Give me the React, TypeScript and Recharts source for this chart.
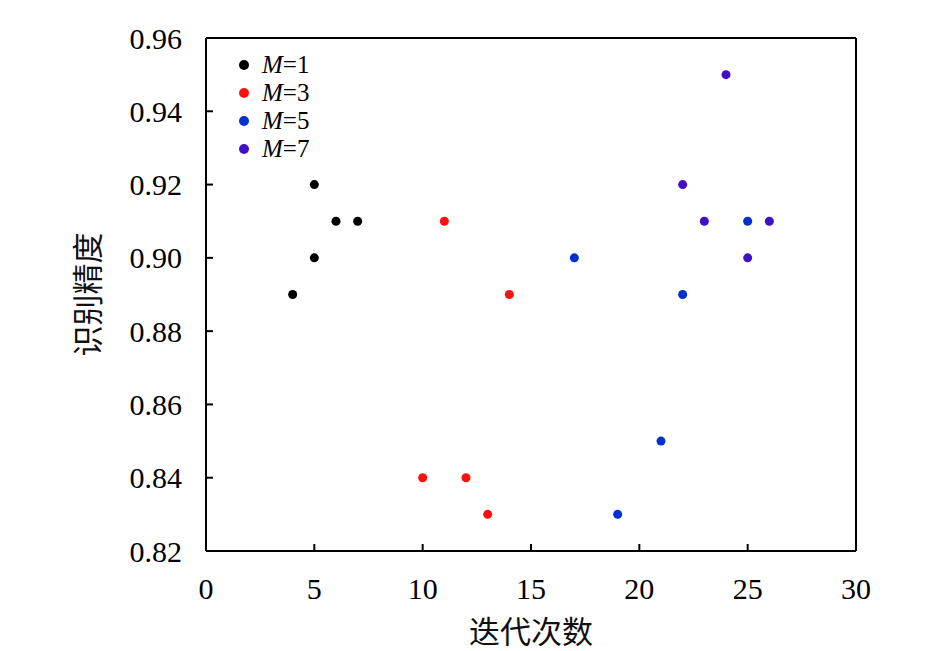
import React from 'react';
import { ScatterChart, Scatter, XAxis, YAxis, ZAxis, Legend, ReferenceLine } from 'recharts';

const seriesNames = ['1', '3', '5', '7'];
const seriesColors = ['#000000', '#ff1010', '#0030d0', '#4010c8'];

const m1X = [4, 5, 5, 6, 7];
const m1Y = [0.89, 0.9, 0.92, 0.91, 0.91];
const m3X = [10, 11, 12, 13, 14];
const m3Y = [0.84, 0.91, 0.84, 0.83, 0.89];
const m5X = [17, 19, 21, 22, 25];
const m5Y = [0.9, 0.83, 0.85, 0.89, 0.91];
const m7X = [22, 23, 24, 25, 26];
const m7Y = [0.92, 0.91, 0.95, 0.9, 0.91];

const xTicks = [0, 5, 10, 15, 20, 25, 30];
const yTicks = [0.82, 0.84, 0.86, 0.88, 0.9, 0.92, 0.94, 0.96];

const toPoints = (xs: number[], ys: number[]) => xs.map((x, i) => ({ x, y: ys[i] }));
const series = [
  toPoints(m1X, m1Y),
  toPoints(m3X, m3Y),
  toPoints(m5X, m5Y),
  toPoints(m7X, m7Y),
];

const FONT = '"Liberation Serif", "Times New Roman", serif';
const CJK = '"Noto Sans CJK SC", sans-serif';
const X_MARGIN = 24;
const Y_MARGIN = 24;
const TICK_LEN = 7;
const LINE_W = 2;

// ticks point into the plot, so draw the tick line together with the label
const XTick = (props: any) => {
  const { x, y, payload } = props;
  const axisY = y - X_MARGIN;
  return (
    <g>
      <line x1={x} x2={x} y1={axisY} y2={axisY - TICK_LEN} stroke="#000" strokeWidth={LINE_W} />
      <text x={x} y={y} dy="0.8em" textAnchor="middle" fill="#000" fontSize={30} fontFamily={FONT}>
        {payload.value}
      </text>
    </g>
  );
};

const YTick = (props: any) => {
  const { x, y, payload } = props;
  const axisX = x + Y_MARGIN;
  return (
    <g>
      <line x1={axisX} x2={axisX + TICK_LEN} y1={y} y2={y} stroke="#000" strokeWidth={LINE_W} />
      <text x={x} y={y} dy="0.35em" textAnchor="end" fill="#000" fontSize={30} fontFamily={FONT}>
        {Number(payload.value).toFixed(2)}
      </text>
    </g>
  );
};

const LegendBox = () => (
  <div style={{ fontFamily: FONT, fontSize: 25, lineHeight: '28px' }}>
    {seriesNames.map((n, i) => (
      <div key={n} style={{ display: 'flex', alignItems: 'center', height: 28 }}>
        <svg width={18} height={18} style={{ marginRight: 9 }}>
          <circle cx={9} cy={9} r={5} fill={seriesColors[i]} />
        </svg>
        <span style={{ fontFamily: FONT, lineHeight: '28px' }}>
          <i>M</i>={n}
        </span>
      </div>
    ))}
  </div>
);

export default function App() {
  return (
    <div style={{ position: 'absolute', left: 0, top: 0, background: '#fff' }}>
      <ScatterChart width={945} height={651} margin={{ top: 38, right: 89, bottom: 40, left: 126 }}>
        <XAxis
          type="number"
          dataKey="x"
          domain={[0, 30]}
          ticks={xTicks}
          interval={0}
          height={60}
          stroke="#000"
          strokeWidth={LINE_W}
          tickSize={0}
          tickLine={false}
          tickMargin={X_MARGIN}
          tick={<XTick />}
          label={{ value: '迭代次数', position: 'bottom', offset: 10, fill: '#111', fontSize: 31, fontFamily: CJK }}
        />
        <YAxis
          type="number"
          dataKey="y"
          domain={[0.82, 0.96]}
          ticks={yTicks}
          interval={0}
          width={80}
          stroke="#000"
          strokeWidth={LINE_W}
          tickSize={0}
          tickLine={false}
          tickMargin={Y_MARGIN}
          tick={<YTick />}
          label={{
            value: '识别精度',
            angle: -90,
            position: 'left',
            offset: 38,
            fill: '#111',
            fontSize: 31,
            fontFamily: CJK,
            style: { textAnchor: 'middle' },
          }}
        />
        <ZAxis range={[85, 85]} />
        <ReferenceLine y={yTicks[yTicks.length - 1]} stroke="#000" strokeWidth={LINE_W} />
        <ReferenceLine x={xTicks[xTicks.length - 1]} stroke="#000" strokeWidth={LINE_W} />
        <Legend
          layout="horizontal"
          verticalAlign="middle"
          content={<LegendBox />}
          wrapperStyle={{ left: 235, top: 51, width: 140, height: 120 }}
        />
        {series.map((d, i) => (
          <Scatter key={i} name={`M=${seriesNames[i]}`} data={d} fill={seriesColors[i]} isAnimationActive={false} />
        ))}
      </ScatterChart>
    </div>
  );
}
